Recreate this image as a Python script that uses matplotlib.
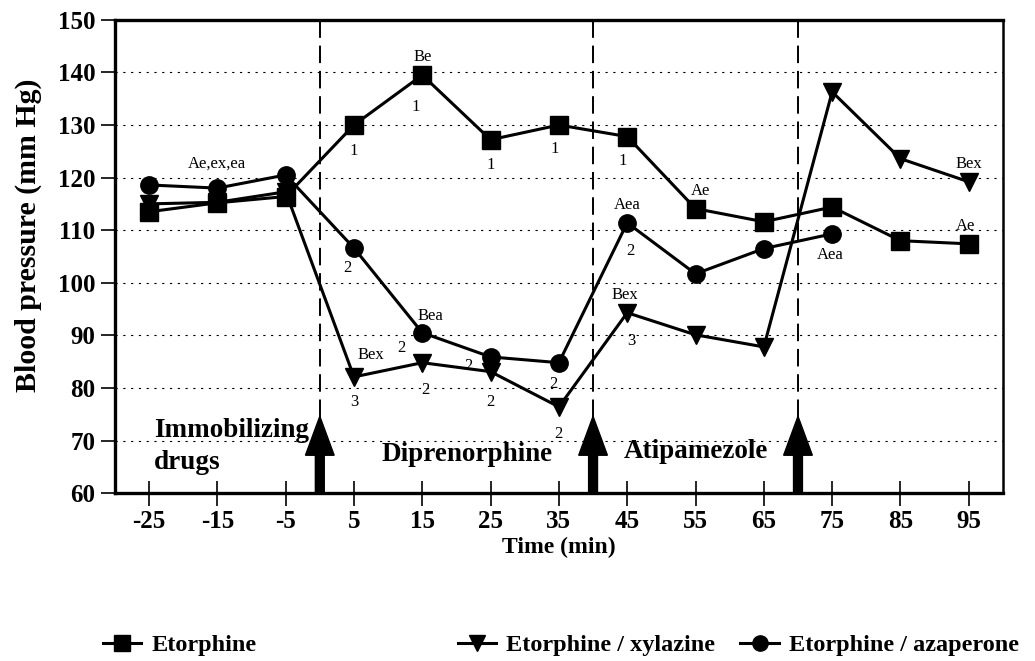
import matplotlib
matplotlib.use("Agg")
import matplotlib.pyplot as plt
from matplotlib.lines import Line2D

plt.rcParams['font.family'] = ['Liberation Serif', 'DejaVu Serif']

# Time points (min) and mean blood pressure (mm Hg)
time = [-25, -15, -5, 5, 15, 25, 35, 45, 55, 65, 75, 85, 95]
etorphine = [113.5, 115.2, 116.4, 130.0, 139.5, 127.2, 130.0, 127.8, 114.1, 111.6, 114.4, 108.0, 107.4]
etor_xylazine = [115.0, 115.3, 117.3, 82.1, 84.8, 83.1, 76.4, 94.3, 90.1, 87.8, 136.3, 123.6, 119.2]
time_aza = [-25, -15, -5, 5, 15, 25, 35, 45, 55, 65, 75]
etor_azaperone = [118.6, 118.0, 120.5, 106.6, 90.5, 85.9, 84.8, 111.4, 101.7, 106.5, 109.3]

# Drug administration times (min)
admin_times = [0, 40, 70]
phase_labels = ["Immobilizing\ndrugs", "Diprenorphine", "Atipamezole"]

# Significance annotations: (x, y, text)
annotations = [
    (-15, 122.6, "Ae,ex,ea"), (15, 143.0, "Be"),
    (5, 125.0, "1"), (14, 133.5, "1"), (25, 122.3, "1"),
    (34.4, 125.5, "1"), (44.3, 123.2, "1"),
    (55.7, 117.5, "Ae"), (45, 114.8, "Aea"), (45.4, 106.0, "2"),
    (4, 102.9, "2"), (16.2, 93.6, "Bea"), (12, 87.6, "2"),
    (7.5, 86.3, "Bex"), (5, 77.4, "3"), (15.4, 79.6, "2"),
    (21.8, 84.1, "2"), (25, 77.4, "2"), (34.2, 80.7, "2"),
    (34.9, 71.3, "2"), (44.7, 97.7, "Bex"), (45.6, 89.0, "3"),
    (74.7, 105.3, "Aea"), (95, 122.6, "Bex"), (94.6, 110.8, "Ae"),
]

yticks = list(range(60, 151, 10))
xticks = time

fig = plt.figure(figsize=(10.35, 6.61), dpi=100)
ax = fig.add_axes([0.111, 0.254, 0.858, 0.716])

ax.set_xlim(-30, 100)
ax.set_ylim(60, 150)

# dotted horizontal grid
for v in yticks[1:-1]:
    ax.axhline(v, color='black', lw=0.8, ls=(0, (2, 5)), zorder=1)

line_kw = dict(color='black', lw=2.2, zorder=4)
ax.plot(time, etorphine, marker='s', ms=12.5, **line_kw)
ax.plot(time, etor_xylazine, marker='v', ms=12.5, **line_kw)
ax.plot(time_aza, etor_azaperone, marker='o', ms=12.5, **line_kw)

# administration markers: dashed line plus thick upward arrow
for t in admin_times:
    ax.plot([t, t], [74.5, 150], color='black', lw=1.4, ls=(0, (9, 4)), zorder=2)
    ax.arrow(t, 60, 0, 14.6, width=1.3, head_width=4.2, head_length=7.4,
             length_includes_head=True, color='black', zorder=5, clip_on=False)

phase_kw = dict(fontsize=19.5, fontweight='bold', va='center')
ax.text(-24.3, 68.9, phase_labels[0], ha='left', linespacing=1.4, **phase_kw)
ax.text(21.6, 67.4, phase_labels[1], ha='center', **phase_kw)
ax.text(55.1, 67.9, phase_labels[2], ha='center', **phase_kw)

for x, y, s in annotations:
    ax.text(x, y, s, fontsize=12, ha='center', va='center', zorder=6)

ax.set_yticks(yticks)
ax.set_xticks(xticks)
ax.set_xticklabels([str(v) for v in xticks])
ax.tick_params(axis='y', direction='out', length=10, width=1.2, pad=4, labelsize=18)
ax.tick_params(axis='x', direction='inout', length=18, width=1.2, pad=3, labelsize=18)
for lab in ax.get_xticklabels() + ax.get_yticklabels():
    lab.set_fontweight('bold')

for side in ['left', 'bottom', 'top']:
    ax.spines[side].set_linewidth(2.4)
ax.spines['right'].set_linewidth(1.8)

ax.set_xlabel("Time (min)", fontsize=17, fontweight='bold', labelpad=3)
ax.set_ylabel("Blood pressure (mm Hg)", fontsize=21.5, fontweight='bold')
ax.yaxis.set_label_coords(-0.082, 0.545)

# legend entries placed individually along the bottom
legend_items = [
    ('s', "Etorphine", 0.078),
    ('v', "Etorphine / xylazine", 0.421),
    ('o', "Etorphine / azaperone", 0.694),
]
for mk, lab, xpos in legend_items:
    h = Line2D([], [], color='black', lw=2.2, marker=mk, ms=11)
    fig.legend([h], [lab], loc='center left', bbox_to_anchor=(xpos, 0.024),
               frameon=False, handlelength=1.6, handletextpad=0.4,
               prop={'family': 'Liberation Serif', 'weight': 'bold', 'size': 17.5})

fig.savefig("out.png", dpi=100)
